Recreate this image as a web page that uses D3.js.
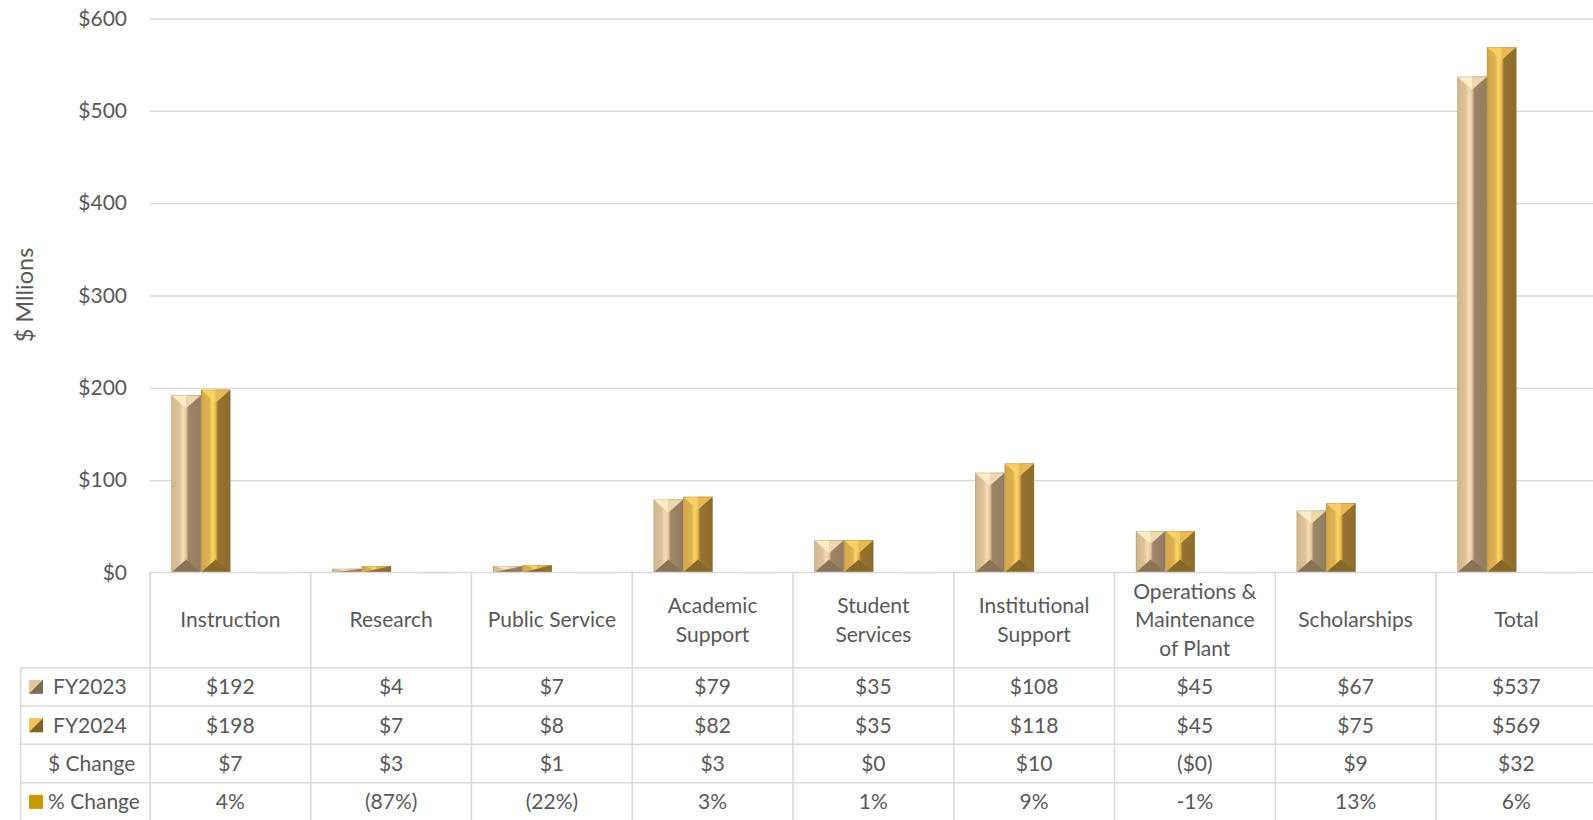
<!doctype html>
<html>

<head>
    <meta charset="utf-8">
    <title>Expenses by function</title>
    <style>
        body {
            margin: 0;
            background: #fff;
        }

        svg {
            display: block;
            font-family: Lato, "Noto Sans", sans-serif;
        }

        .txt {
            fill: #595959;
            font-size: 21px;
        }

        .axis path {
            display: none;
        }

        .axis .tick line {
            stroke: #d9d9d9;
            stroke-width: 1.3;
        }

        .axis .tick text {
            fill: #595959;
            font-size: 21px;
            font-family: Lato, "Noto Sans", sans-serif;
        }
    </style>
    <script src="https://cdn.jsdelivr.net/npm/d3@7"></script>
</head>

<body>
    <svg width="1593" height="820"></svg>
    <script>
        // data
        var categories = ["Instruction", "Research", "Public Service", "Academic Support", "Student Services",
            "Institutional Support", "Operations & Maintenance of Plant", "Scholarships", "Total"];
        var headerLines = [["Instruction"], ["Research"], ["Public Service"], ["Academic", "Support"],
            ["Student", "Services"], ["Institutional", "Support"], ["Operations &", "Maintenance", "of Plant"],
            ["Scholarships"], ["Total"]];
        var seriesNames = ["FY2023", "FY2024", "$ Change", "% Change"];
        var fy2023 = [192, 4, 7, 79, 35, 108, 45, 67, 537];
        var fy2024 = [198, 7, 8, 82, 35, 118, 45, 75, 569];
        var dollarChange = [7, 3, 1, 3, 0, 10, -0.3, 9, 32];
        var pctChange = [0.04, -0.87, -0.22, 0.03, 0.01, 0.09, -0.01, 0.13, 0.06];
        var fy2023Labels = ["$192", "$4", "$7", "$79", "$35", "$108", "$45", "$67", "$537"];
        var fy2024Labels = ["$198", "$7", "$8", "$82", "$35", "$118", "$45", "$75", "$569"];
        var dollarLabels = ["$7", "$3", "$1", "$3", "$0", "$10", "($0)", "$9", "$32"];
        var pctLabels = ["4%", "(87%)", "(22%)", "3%", "1%", "9%", "-1%", "13%", "6%"];
        var yTicks = [0, 100, 200, 300, 400, 500, 600];

        (function () {
            var svg = d3.select("svg");
            var plotLeft = 150, plotRight = 1596.75, plotTop = 18.5, base = 572.5;
            var rowH = [667.7, 706, 744.3, 782.7, 821];
            var legendLeft = 20.7;

            var x = d3.scaleBand().domain(categories).range([plotLeft, plotRight]).paddingInner(0).paddingOuter(0);
            var xs = d3.scaleBand().domain(seriesNames).range([0, x.bandwidth()]).paddingInner(0).paddingOuter(0.724);
            var y = d3.scaleLinear().domain([0, 600]).range([base, plotTop]);

            // gradients for the bevelled columns
            var defs = svg.append("defs");
            var styles = {
                "FY2023": { stops: [["0%", "#d2b58a"], ["28%", "#dcc39b"], ["40%", "#f6ddb0"], ["50%", "#e4c99e"], ["58%", "#9d8567"], ["100%", "#937b5d"]], top: "#fdeec9", topR: "#eed8ae", bottom: "#8b7456" },
                "FY2024": { stops: [["0%", "#d4a547"], ["28%", "#ddb050"], ["40%", "#ffd567"], ["50%", "#e8b852"], ["58%", "#977430"], ["100%", "#8d6c2b"]], top: "#f9cf66", topR: "#eab956", bottom: "#876829" }
            };
            Object.keys(styles).forEach(function (k, i) {
                var g = defs.append("linearGradient").attr("id", "grad" + i)
                    .attr("x1", "0%").attr("x2", "100%").attr("y1", "0%").attr("y2", "0%");
                styles[k].stops.forEach(function (s) {
                    g.append("stop").attr("offset", s[0]).attr("stop-color", s[1]);
                });
                styles[k].id = "grad" + i;
            });

            // y axis with gridlines
            svg.append("g")
                .attr("class", "axis")
                .attr("transform", "translate(" + plotLeft + ",0)")
                .call(d3.axisLeft(y).tickValues(yTicks).tickSize(-(1593 - plotLeft)).tickPadding(23)
                    .tickFormat(function (d) { return "$" + d; }))
                .selectAll(".tick line").filter(function (d) { return d === 0; }).remove();

            svg.append("text")
                .attr("class", "txt")
                .style("font-size", "23.5px")
                .attr("transform", "translate(33,295) rotate(-90)")
                .attr("text-anchor", "middle")
                .text("$ Mllions");

            // bars
            var rows = categories.map(function (c, i) {
                return { cat: c, values: [fy2023[i], fy2024[i], dollarChange[i], pctChange[i]] };
            });

            var groups = svg.selectAll(".cat")
                .data(rows)
                .enter().append("g")
                .attr("class", "cat")
                .attr("transform", function (d) { return "translate(" + x(d.cat) + ",0)"; });

            groups.each(function (d) {
                var g = d3.select(this);
                d.values.forEach(function (v, j) {
                    var name = seriesNames[j];
                    var bx = xs(name), w = xs.bandwidth();
                    var y0 = Math.min(y(v), y(0)), h = Math.abs(y(v) - y(0));
                    if (name === "$ Change") return;
                    if (name === "% Change") {
                        g.append("rect").attr("x", bx).attr("y", y0).attr("width", w)
                            .attr("height", Math.max(h, 0.6)).attr("fill", "#c99a00").attr("opacity", 0.4);
                        return;
                    }
                    var st = styles[name];
                    var dpt = Math.min(13, h / 2);
                    g.append("rect").attr("x", bx).attr("y", y0).attr("width", w).attr("height", h)
                        .attr("fill", "url(#" + st.id + ")");
                    g.append("path")
                        .attr("d", "M" + bx + "," + y0 + "L" + (bx + w / 2) + "," + (y0 + dpt) + "L" + (bx + w / 2) + "," + y0 + "Z")
                        .attr("fill", st.top);
                    g.append("path")
                        .attr("d", "M" + (bx + w / 2) + "," + y0 + "L" + (bx + w / 2) + "," + (y0 + dpt) + "L" + (bx + w) + "," + y0 + "Z")
                        .attr("fill", st.topR);
                    g.append("path")
                        .attr("d", "M" + bx + "," + (y0 + h) + "L" + (bx + w / 2) + "," + (y0 + h - dpt) + "L" + (bx + w) + "," + (y0 + h) + "Z")
                        .attr("fill", st.bottom);
                    g.append("rect").attr("x", bx + 0.3).attr("y", y0 + 0.3).attr("width", w - 0.6).attr("height", Math.max(h - 0.6, 0))
                        .attr("fill", "none").attr("stroke", "rgba(120,110,90,0.35)").attr("stroke-width", 0.6);
                });
            });

            // data table
            var grid = svg.append("g").attr("stroke", "#d9d9d9").attr("stroke-width", 1.6);
            grid.append("line").attr("x1", plotLeft).attr("x2", 1593).attr("y1", base).attr("y2", base);
            rowH.slice(0, 4).forEach(function (yy) {
                grid.append("line").attr("x1", legendLeft).attr("x2", 1593).attr("y1", yy).attr("y2", yy);
            });
            grid.append("line").attr("x1", legendLeft).attr("x2", legendLeft).attr("y1", rowH[0]).attr("y2", 820);
            categories.forEach(function (c) {
                grid.append("line").attr("x1", x(c)).attr("x2", x(c)).attr("y1", base).attr("y2", 820);
            });

            var lineH = 28.4;
            categories.forEach(function (c, i) {
                var lines = headerLines[i];
                var cy = (base + rowH[0]) / 2 - (lines.length - 1) * lineH / 2;
                lines.forEach(function (l, k) {
                    svg.append("text").attr("class", "txt")
                        .attr("x", x(c) + x.bandwidth() / 2)
                        .attr("y", cy + k * lineH)
                        .attr("dy", "0.35em")
                        .attr("text-anchor", "middle")
                        .text(l);
                });
            });

            var tableRows = [fy2023Labels, fy2024Labels, dollarLabels, pctLabels];
            tableRows.forEach(function (labels, r) {
                var cy = (rowH[r] + rowH[r + 1]) / 2;
                labels.forEach(function (t, i) {
                    svg.append("text").attr("class", "txt")
                        .attr("x", x(categories[i]) + x.bandwidth() / 2)
                        .attr("y", cy).attr("dy", "0.35em")
                        .attr("text-anchor", "middle")
                        .text(t);
                });
            });

            // legend keys + series names
            var keyX = 29, keyS = 14;
            var keyStyle = [
                { light: "#e0c9a0", dark: "#7f6b52" },
                { light: "#f2c35c", dark: "#7f6226" }
            ];
            seriesNames.forEach(function (name, r) {
                var cy = (rowH[r] + rowH[r + 1]) / 2;
                var tx = 48;
                if (r < 2) {
                    var ks = keyStyle[r];
                    svg.append("rect").attr("x", keyX).attr("y", cy - keyS / 2).attr("width", keyS).attr("height", keyS)
                        .attr("fill", ks.light);
                    svg.append("path")
                        .attr("d", "M" + (keyX + keyS) + "," + (cy - keyS / 2) + "L" + (keyX + keyS) + "," + (cy + keyS / 2) + "L" + keyX + "," + (cy + keyS / 2) + "Z")
                        .attr("fill", ks.dark);
                    tx = 53;
                } else if (r === 3) {
                    svg.append("rect").attr("x", keyX).attr("y", cy - keyS / 2).attr("width", keyS).attr("height", keyS)
                        .attr("fill", "#c99a00");
                }
                svg.append("text").attr("class", "txt")
                    .attr("x", tx).attr("y", cy).attr("dy", "0.35em")
                    .text(name);
            });
        })();
    </script>
</body>

</html>
